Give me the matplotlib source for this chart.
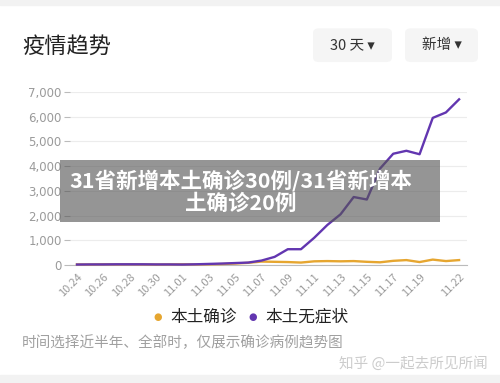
import numpy as np
import matplotlib.pyplot as plt
from matplotlib.patches import FancyBboxPatch, Rectangle

plt.rcParams['font.family'] = ['Noto Sans CJK SC', 'DejaVu Sans']

# ----------------------------------------------------------------------------
# 疫情趋势 - 30 days, new local cases
# ----------------------------------------------------------------------------
dates = ['10.24', '10.25', '10.26', '10.27', '10.28', '10.29', '10.30', '10.31',
         '11.01', '11.02', '11.03', '11.04', '11.05', '11.06', '11.07', '11.08',
         '11.09', '11.10', '11.11', '11.12', '11.13', '11.14', '11.15', '11.16',
         '11.17', '11.18', '11.19', '11.20', '11.21', '11.22']
tick_labels = ['10.24', '10.26', '10.28', '10.30', '11.01', '11.03', '11.05', '11.07',
               '11.09', '11.11', '11.13', '11.15', '11.17', '11.19', '11.22']

confirmed = [25, 20, 30, 25, 30, 25, 20, 25, 30, 25, 30, 40, 60, 90, 140, 130,
             120, 100, 150, 160, 150, 160, 130, 110, 170, 200, 120, 220, 160, 200]
asymptomatic = [20, 25, 25, 30, 30, 30, 25, 25, 20, 30, 45, 60, 80, 100, 180, 330,
                640, 640, 1100, 1620, 2050, 2750, 2650, 3900, 4500, 4620, 4480,
                5950, 6170, 6700]

c_conf = '#e6a630'
c_asym = '#6236b0'
grey = '#9a9a9a'

fig = plt.figure(figsize=(5.0, 3.83), dpi=100)
fig.patch.set_facecolor('white')

# top / bottom page strips
fig.patches.append(Rectangle((0, 0.987), 1, 0.013, transform=fig.transFigure,
                             color='#f2f2f2', zorder=0))
fig.patches.append(Rectangle((0, 0), 1, 0.02, transform=fig.transFigure,
                             color='#f2f2f2', zorder=0))

fig.text(0.044, 0.88, '疫情趋势', fontsize=16, color='#222222', va='center')

# dropdown buttons
for x0, w, label in [(0.626, 0.158, '30 天 ▾'), (0.81, 0.146, '新增 ▾')]:
    fig.patches.append(FancyBboxPatch((x0, 0.838), w, 0.088,
                                      boxstyle='round,pad=0,rounding_size=0.012',
                                      transform=fig.transFigure,
                                      facecolor='#f5f5f5', edgecolor='none'))
    fig.text(x0 + w / 2, 0.882, label, fontsize=10.5, color='#333333',
             ha='center', va='center', family=['Noto Sans CJK SC', 'DejaVu Sans'])

ax = fig.add_axes([0.14, 0.308, 0.794, 0.452])
x = np.arange(len(dates))
ax.plot(x, confirmed, color=c_conf, linewidth=1.7, clip_on=False, zorder=3)
ax.plot(x, asymptomatic, color=c_asym, linewidth=1.7, clip_on=False, zorder=4)

ax.set_xlim(-0.53, 29.6)
ax.set_ylim(0, 7000)
ax.set_yticks(np.arange(0, 7001, 1000))
ax.set_yticklabels([f'{v:,}' for v in range(0, 7001, 1000)])
tick_pos = [dates.index(t) for t in tick_labels]
ax.set_xticks(tick_pos)
ax.set_xticklabels(tick_labels, rotation=45, ha='right', rotation_mode='anchor')

ax.grid(axis='y', color='#ececec', linewidth=0.8)
ax.set_axisbelow(True)
for s in ['top', 'right', 'left']:
    ax.spines[s].set_visible(False)
ax.spines['bottom'].set_color('#bbbbbb')
ax.tick_params(axis='y', length=4, color='#bbbbbb', labelcolor=grey, labelsize=8.5, pad=2)
ax.tick_params(axis='x', length=0, labelcolor=grey, labelsize=8, pad=5)
for t in ax.get_yticklabels():
    t.set_family(['DejaVu Sans'])

# legend
fig.text(0.316, 0.172, '●', color=c_conf, fontsize=7, ha='center', va='center',
         family=['DejaVu Sans'])
fig.text(0.34, 0.172, '本土确诊', color='#222222', fontsize=12, va='center')
fig.text(0.506, 0.172, '●', color=c_asym, fontsize=7, ha='center', va='center',
         family=['DejaVu Sans'])
fig.text(0.53, 0.172, '本土无症状', color='#222222', fontsize=12, va='center')

fig.text(0.044, 0.105, '时间选择近半年、全部时，仅展示确诊病例趋势图',
         color='#a0a0a0', fontsize=10.5, va='center')
fig.text(0.975, 0.052, '知乎 @一起去所见所闻', color='#cccccc', fontsize=10.5,
         ha='right', va='center')

# title overlay banner
fig.patches.append(Rectangle((0.12, 0.42), 0.76, 0.162, transform=fig.transFigure,
                             facecolor='#555555', alpha=0.62, edgecolor='none', zorder=10))
fig.text(0.482, 0.528, '31省新增本土确诊30例/31省新增本', color='white', fontsize=15.5,
         fontweight='heavy', ha='center', va='center', zorder=11)
fig.text(0.482, 0.468, '土确诊20例', color='white', fontsize=15.5,
         fontweight='heavy', ha='center', va='center', zorder=11)

plt.savefig('out.png', dpi=100)
